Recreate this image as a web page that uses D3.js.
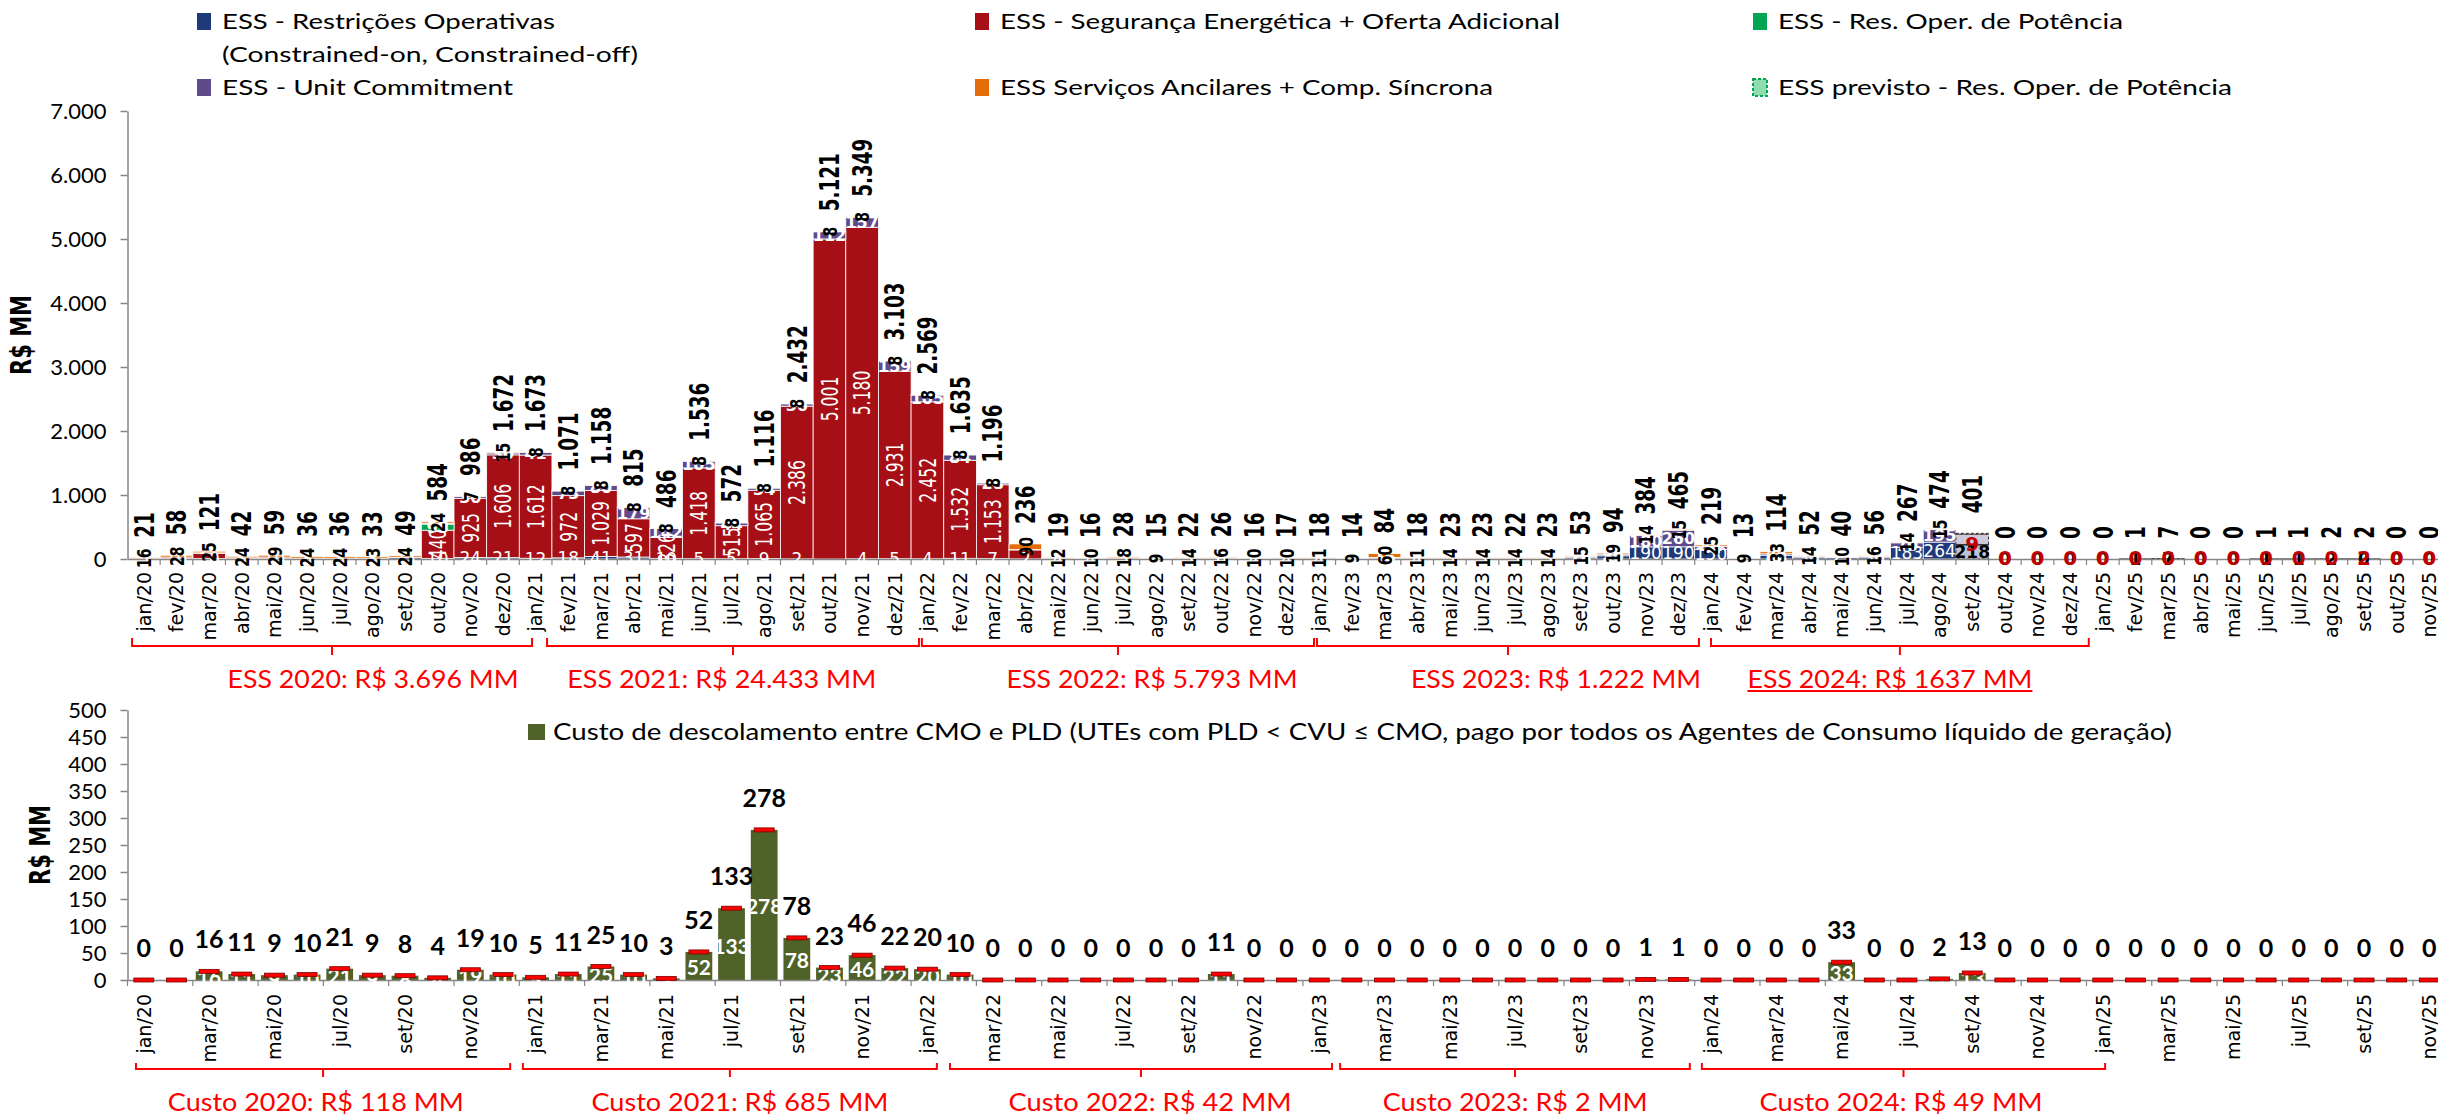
<!DOCTYPE html>
<html>
<head>
<meta charset="utf-8">
<script src="https://cdn.jsdelivr.net/npm/d3@7"></script>
<style>
  html, body { margin: 0; padding: 0; background: #fff; }
  svg { display: block; }
</style>
</head>
<body>
<svg id="chart" width="2438" height="1116"></svg>
<script>
// ---------- Data (R$ milhões) ----------
const months = [
  "jan/20","fev/20","mar/20","abr/20","mai/20","jun/20","jul/20","ago/20","set/20","out/20","nov/20","dez/20",
  "jan/21","fev/21","mar/21","abr/21","mai/21","jun/21","jul/21","ago/21","set/21","out/21","nov/21","dez/21",
  "jan/22","fev/22","mar/22","abr/22","mai/22","jun/22","jul/22","ago/22","set/22","out/22","nov/22","dez/22",
  "jan/23","fev/23","mar/23","abr/23","mai/23","jun/23","jul/23","ago/23","set/23","out/23","nov/23","dez/23",
  "jan/24","fev/24","mar/24","abr/24","mai/24","jun/24","jul/24","ago/24","set/24","out/24","nov/24","dez/24",
  "jan/25","fev/25","mar/25","abr/25","mai/25","jun/25","jul/25","ago/25","set/25","out/25","nov/25"
];

// ESS - Restrições Operativas (Constrained-on, Constrained-off)
const essRestricoes = [
  5,10,10,8,10,8,8,8,25,10,24,21,
  12,18,41,31,10,5,5,9,2,0,4,5,
  4,11,7,2,4,4,5,4,5,6,4,4,
  4,3,8,4,5,5,5,5,20,50,190,190,
  150,4,60,30,25,30,183,264,218,0,0,0,
  0,1,7,0,0,1,1,2,0,0,0
];
// ESS - Segurança Energética + Oferta Adicional
const essSeguranca = [
  0,20,80,10,20,4,4,2,0,440,925,1606,
  1612,972,1029,597,326,1418,515,1065,2386,5001,5180,2931,
  2452,1532,1153,140,0,0,0,0,0,0,0,0,
  0,0,0,0,0,0,0,0,0,0,0,0,
  0,0,0,0,0,0,0,0,9,0,0,0,
  0,0,0,0,0,0,0,0,2,0,0
];
// ESS - Res. Oper. de Potência
const essPotencia = [
  0,0,0,0,0,0,0,0,0,95,0,0,
  0,0,0,0,0,0,0,0,0,0,0,0,
  0,0,0,0,0,0,0,0,0,0,0,0,
  0,0,0,0,0,0,0,0,0,0,0,0,
  0,0,0,0,0,0,0,0,0,0,0,0,
  0,0,0,0,0,0,0,0,0,0,0
];
// ESS - Unit Commitment
const essUnitCommitment = [
  0,0,6,0,0,0,0,0,0,15,30,30,
  41,73,80,179,142,105,44,34,36,112,157,159,
  105,84,28,4,3,2,5,2,3,4,2,3,
  3,2,16,3,4,4,3,4,18,25,180,260,
  44,0,21,8,5,10,70,195,160,0,0,0,
  0,0,0,0,0,0,0,0,0,0,0
];
// ESS Serviços Ancilares + Comp. Síncrona
const essAncilares = [
  16,28,25,24,29,24,24,23,24,24,7,15,
  8,8,8,8,8,8,8,8,8,8,8,8,
  8,8,8,90,12,10,18,9,14,16,10,10,
  11,9,60,11,14,14,14,14,15,19,14,15,
  25,9,33,14,10,16,14,15,14,0,0,0,
  0,0,0,0,0,0,0,0,0,0,0
];
// first month shown as previsto (forecast)
const firstForecastMonth = "set/24";

// Custo de descolamento entre CMO e PLD
const custoDescolamento = [
  0,0,16,11,9,10,21,9,8,4,19,10,
  5,11,25,10,3,52,133,278,78,23,46,22,
  20,10,0,0,0,0,0,0,0,11,0,0,
  0,0,0,0,0,0,0,0,0,0,1,1,
  0,0,0,0,33,0,0,2,13,0,0,0,
  0,0,0,0,0,0,0,0,0,0,0
];

const years = ["2020","2021","2022","2023","2024"];
const essAnnualLabels = ["3.696","24.433","5.793","1.222","1637"];
const custoAnnual = [118, 685, 42, 2, 49];

const topTicks = [0,1000,2000,3000,4000,5000,6000,7000];
const bottomTicks = [0,50,100,150,200,250,300,350,400,450,500];

// ---------- Setup ----------
const svg = d3.select("#chart");
const locale = d3.formatLocale({decimal: ",", thousands: ".", grouping: [3], currency: ["R$ ", ""]});
const fmt = locale.format(",d");

const CAL = "Lato, 'Open Sans', sans-serif";
const VER = "'DejaVu Sans', Verdana, sans-serif";
const AXIS_GREY = "#868686";
const ANNOT_RED = "#ff0000";

const colors = {
  restricoes: "#1f3a7a",
  seguranca: "#a50f15",
  potencia: "#00a651",
  unit: "#5f4b8b",
  ancilares: "#e46c0a",
  previsto: "#8fdcae",
  custo: "#4f6228"
};

const keys = ["restricoes", "seguranca", "potencia", "unit", "ancilares"];
const forecastStart = months.indexOf(firstForecastMonth);
const rows = months.map((m, i) => ({
  month: m, i,
  forecast: i >= forecastStart,
  restricoes: essRestricoes[i],
  seguranca: essSeguranca[i],
  potencia: essPotencia[i],
  unit: essUnitCommitment[i],
  ancilares: essAncilares[i]
}));
rows.forEach(r => { r.total = d3.sum(keys, k => r[k]); });

const x0 = 127.5, step = 32.65;
const xTop = d3.scaleBand().domain(months).range([x0, x0 + months.length * step]).padding(0);
const xBot = d3.scaleBand().domain(months).range([x0, x0 + months.length * step])
  .paddingInner(0.18).paddingOuter(0.09);
const xIdx = d3.scaleLinear().domain([0, months.length]).range([x0, x0 + months.length * step]);

const yTop = d3.scaleLinear().domain([0, 7000]).range([559, 111]);
const yBot = d3.scaleLinear().domain([0, 500]).range([980, 710]);

// vertical (reading upward) label, condensed along its length
function vLabel(g, data, pos, txt, opts) {
  const groups = g.selectAll(null).data(data).join("g")
    .attr("transform", d => { const p = pos(d); return `translate(${p[0]},${p[1]})`; });
  groups.append("g").attr("transform", "rotate(-90)")
    .append("text")
    .attr("transform", `scale(${opts.squeeze},1)`)
    .attr("text-anchor", opts.anchor)
    .attr("dy", "0.36em")
    .attr("font-family", opts.family)
    .attr("font-size", opts.size)
    .attr("font-weight", opts.weight || "normal")
    .attr("fill", opts.fill)
    .text(txt);
  return groups;
}

// ---------- Top chart ----------
const topG = svg.append("g");
const series = d3.stack().keys(keys)(rows);

const barsG = topG.append("g");
series.forEach(s => {
  barsG.selectAll(null)
    .data(s.filter(d => d[1] > d[0]))
    .join("rect")
    .attr("x", d => xTop(d.data.month))
    .attr("width", xTop.bandwidth())
    .attr("y", d => yTop(d[1]))
    .attr("height", d => yTop(d[0]) - yTop(d[1]))
    .attr("fill", colors[s.key])
    .attr("fill-opacity", d => d.data.forecast ? 0.3 : 1)
    .attr("stroke", d => d.data.forecast ? "#333" : "#fff")
    .attr("stroke-width", d => d.data.forecast ? 1 : 0.8)
    .attr("stroke-dasharray", d => d.data.forecast ? "3,2" : null);
});

// y axis
const yAxisTop = topG.append("g").attr("transform", `translate(${x0},0)`)
  .call(d3.axisLeft(yTop).tickValues(topTicks).tickFormat(fmt).tickSize(7).tickPadding(14).tickSizeOuter(0));
yAxisTop.select(".domain").attr("stroke", AXIS_GREY).attr("stroke-width", 1.5);
yAxisTop.selectAll(".tick line").attr("stroke", AXIS_GREY).attr("stroke-width", 1.5);
yAxisTop.selectAll(".tick text").attr("font-family", CAL).attr("font-size", 22).attr("fill", "#000");

// x axis
const xAxisTop = topG.append("g").attr("transform", `translate(0,${yTop(0)})`)
  .call(d3.axisBottom(xTop).tickSize(0).tickSizeOuter(0));
xAxisTop.select(".domain").attr("stroke", AXIS_GREY).attr("stroke-width", 1.5);
xAxisTop.selectAll(".tick text")
  .attr("font-family", VER).attr("font-size", 19).attr("fill", "#000")
  .attr("text-anchor", "end").attr("transform", "rotate(-90)")
  .attr("x", -13).attr("y", 0).attr("dy", "0.36em");
topG.append("g").selectAll("line")
  .data(months)
  .join("line")
  .attr("x1", d => xTop(d) + xTop.bandwidth()).attr("x2", d => xTop(d) + xTop.bandwidth())
  .attr("y1", yTop(0)).attr("y2", yTop(0) + 6)
  .attr("stroke", AXIS_GREY).attr("stroke-width", 1.2);

// segment labels
const segLabels = topG.append("g");
const cx = d => xTop(d.month) + xTop.bandwidth() / 2;
const segMid = d => (yTop(d[0]) + yTop(d[1])) / 2;
const sOf = k => series.find(s => s.key === k);

// Restrições labels (horizontal, foot of bar)
const sRes = sOf("restricoes");
segLabels.selectAll(null)
  .data(sRes.filter(d => d.data.restricoes > 0 || d.data.forecast))
  .join("text")
  .attr("x", d => cx(d.data))
  .attr("y", d => segMid(d))
  .attr("text-anchor", "middle").attr("dominant-baseline", "central")
  .attr("font-family", VER).attr("font-size", 17)
  .attr("font-weight", d => d.data.forecast ? "bold" : "normal")
  .attr("fill", d => d.data.forecast ? "#000" : "#fff")
  .text(d => fmt(d.data.restricoes));

// Segurança labels (vertical, white)
const sSeg = sOf("seguranca");
vLabel(segLabels, sSeg.filter(d => d.data.seguranca >= 150 && !d.data.forecast),
  d => [cx(d.data), segMid(d)], d => fmt(d.data.seguranca),
  {squeeze: 0.68, anchor: "middle", family: VER, size: 23, fill: "#fff"});
segLabels.selectAll(null)
  .data(sSeg.filter(d => d.data.forecast))
  .join("text")
  .attr("x", d => cx(d.data))
  .attr("y", d => segMid(d) - 1)
  .attr("text-anchor", "middle").attr("dominant-baseline", "central")
  .attr("font-family", VER).attr("font-size", 20).attr("font-weight", "bold")
  .attr("fill", "#c00000")
  .text(d => fmt(d.data.seguranca));

// Res. Oper. de Potência labels
const sPot = sOf("potencia");
segLabels.selectAll(null)
  .data(sPot.filter(d => d.data.potencia > 0))
  .join("text")
  .attr("x", d => cx(d.data)).attr("y", d => segMid(d))
  .attr("text-anchor", "middle").attr("dominant-baseline", "central")
  .attr("font-family", VER).attr("font-size", 16).attr("font-weight", "bold").attr("fill", "#fff")
  .text(d => fmt(d.data.potencia));

// Unit Commitment labels
const sUnit = sOf("unit");
segLabels.selectAll(null)
  .data(sUnit.filter(d => d.data.unit >= 15 && !d.data.forecast))
  .join("text")
  .attr("x", d => cx(d.data)).attr("y", d => segMid(d))
  .attr("text-anchor", "middle").attr("dominant-baseline", "central")
  .attr("font-family", VER).attr("font-size", 16).attr("font-weight", "bold").attr("fill", "#fff")
  .text(d => fmt(d.data.unit));

// Serviços Ancilares labels (vertical, black)
const sAnc = sOf("ancilares");
vLabel(segLabels, sAnc.filter(d => d.data.ancilares > 0 && !d.data.forecast),
  d => [cx(d.data), segMid(d)], d => fmt(d.data.ancilares),
  {squeeze: 0.7, anchor: "middle", family: VER, size: 20, weight: "bold", fill: "#000"});

// totals
vLabel(topG.append("g"), rows,
  d => [cx(d), yTop(d.total) - 20], d => fmt(d.total),
  {squeeze: 0.68, anchor: "start", family: VER, size: 27, weight: "bold", fill: "#000"});

// y title
vLabel(svg.append("g"), ["R$ MM"], () => [21, 335], d => d,
  {squeeze: 0.75, anchor: "middle", family: VER, size: 28, weight: "bold", fill: "#000"});

// ---------- Top legend ----------
const legend = svg.append("g");
const legendItems = [
  {label: "ESS - Restrições Operativas", color: colors.restricoes, x: 197, row: 0, w: 333},
  {label: "ESS - Segurança Energética + Oferta Adicional", color: colors.seguranca, x: 975, row: 0, w: 560},
  {label: "ESS - Res. Oper. de Potência", color: colors.potencia, x: 1753, row: 0, w: 345},
  {label: "ESS - Unit Commitment", color: colors.unit, x: 197, row: 1, w: 291},
  {label: "ESS Serviços Ancilares + Comp. Síncrona", color: colors.ancilares, x: 975, row: 1, w: 493},
  {label: "ESS previsto - Res. Oper. de Potência", color: colors.previsto, x: 1753, row: 1, w: 454, dashed: true}
];
const rowBase = [29, 95];
legendItems.forEach(it => {
  const b = rowBase[it.row];
  legend.append("rect")
    .attr("x", it.x).attr("y", b - 16).attr("width", 14).attr("height", 17)
    .attr("fill", it.color)
    .attr("stroke", it.dashed ? colors.potencia : "none")
    .attr("stroke-width", it.dashed ? 2 : 0)
    .attr("stroke-dasharray", it.dashed ? "3,2" : null);
  legend.append("text")
    .attr("x", it.x + 25).attr("y", b)
    .attr("font-family", CAL).attr("font-size", 21).attr("fill", "#000")
    .attr("textLength", it.w).attr("lengthAdjust", "spacingAndGlyphs")
    .text(it.label);
});
legend.append("text")
  .attr("x", 222).attr("y", 62)
  .attr("font-family", CAL).attr("font-size", 21).attr("fill", "#000")
  .attr("textLength", 416).attr("lengthAdjust", "spacingAndGlyphs")
  .text("(Constrained-on, Constrained-off)");

// ---------- Year brackets ----------
function bracket(g, a, b, yLine, up, down) {
  const xa = xIdx(a), xb = xIdx(b), xm = (xa + xb) / 2;
  g.append("path")
    .attr("d", `M${xa},${yLine - up}V${yLine}H${xb}V${yLine - up}M${xm},${yLine}V${yLine + down}`)
    .attr("fill", "none").attr("stroke", ANNOT_RED).attr("stroke-width", 2);
}
const annot = svg.append("g");
const topSpans = [[0.14, 12.39], [12.85, 24.24], [24.33, 36.34], [36.43, 48.13], [48.5, 60.07]];
const topTextAt = [7.52, 18.2, 31.38, 43.75, 53.98];
const topTextW = [291, 309, 291, 290, 285];
years.forEach((yr, i) => {
  bracket(annot, topSpans[i][0], topSpans[i][1], 646, 8, 9);
  annot.append("text")
    .attr("x", xIdx(topTextAt[i])).attr("y", 688)
    .attr("text-anchor", "middle")
    .attr("font-family", CAL).attr("font-size", 25).attr("fill", ANNOT_RED)
    .attr("textLength", topTextW[i]).attr("lengthAdjust", "spacingAndGlyphs")
    .text(`ESS ${yr}: R$ ${essAnnualLabels[i]} MM`);
  if (i === years.length - 1) {
    annot.append("line")
      .attr("x1", xIdx(topTextAt[i]) - topTextW[i] / 2).attr("x2", xIdx(topTextAt[i]) + topTextW[i] / 2)
      .attr("y1", 691).attr("y2", 691).attr("stroke", ANNOT_RED).attr("stroke-width", 2);
  }
});

const botSpans = [[0.26, 11.72], [12.11, 24.79], [25.19, 36.89], [37.14, 47.85], [48.22, 60.57]];
const botTextAt = [5.77, 18.76, 31.32, 42.5, 54.32];
const botTextW = [296, 297, 283, 265, 283];
years.forEach((yr, i) => {
  bracket(annot, botSpans[i][0], botSpans[i][1], 1069, 6, 8);
  annot.append("text")
    .attr("x", xIdx(botTextAt[i])).attr("y", 1111)
    .attr("text-anchor", "middle")
    .attr("font-family", CAL).attr("font-size", 25).attr("fill", ANNOT_RED)
    .attr("textLength", botTextW[i]).attr("lengthAdjust", "spacingAndGlyphs")
    .text(`Custo ${yr}: R$ ${custoAnnual[i]} MM`);
});

// ---------- Bottom chart ----------
const botG = svg.append("g");
const custoRows = months.map((m, i) => ({month: m, i, v: custoDescolamento[i]}));
const bcx = d => xBot(d.month) + xBot.bandwidth() / 2;

botG.append("g").selectAll("rect")
  .data(custoRows.filter(d => d.v > 0))
  .join("rect")
  .attr("x", d => xBot(d.month)).attr("width", xBot.bandwidth())
  .attr("y", d => yBot(d.v)).attr("height", d => yBot(0) - yBot(d.v))
  .attr("fill", colors.custo);

const yAxisBot = botG.append("g").attr("transform", `translate(${x0},0)`)
  .call(d3.axisLeft(yBot).tickValues(bottomTicks).tickSize(7).tickPadding(14).tickSizeOuter(0));
yAxisBot.select(".domain").attr("stroke", AXIS_GREY).attr("stroke-width", 1.5);
yAxisBot.selectAll(".tick line").attr("stroke", AXIS_GREY).attr("stroke-width", 1.5);
yAxisBot.selectAll(".tick text").attr("font-family", CAL).attr("font-size", 22).attr("fill", "#000");

const xAxisBot = botG.append("g").attr("transform", `translate(0,${yBot(0)})`)
  .call(d3.axisBottom(xTop).tickValues(months.filter((m, i) => i % 2 === 0)).tickSize(0).tickSizeOuter(0));
xAxisBot.select(".domain").attr("stroke", AXIS_GREY).attr("stroke-width", 1.5);
xAxisBot.selectAll(".tick text")
  .attr("font-family", VER).attr("font-size", 19).attr("fill", "#000")
  .attr("text-anchor", "end").attr("transform", "rotate(-90)")
  .attr("x", -14).attr("y", 0).attr("dy", "0.36em");
botG.append("g").selectAll("line")
  .data(months.filter((m, i) => i % 2 === 0))
  .join("line")
  .attr("x1", d => xTop(d)).attr("x2", d => xTop(d))
  .attr("y1", yBot(0)).attr("y2", yBot(0) + 6)
  .attr("stroke", AXIS_GREY).attr("stroke-width", 1.2);

// white labels inside bars
botG.append("g").selectAll("text")
  .data(custoRows.filter(d => d.i <= forecastStart))
  .join("text")
  .attr("x", bcx).attr("y", d => (yBot(0) + yBot(d.v)) / 2 + 1)
  .attr("text-anchor", "middle").attr("dominant-baseline", "central")
  .attr("font-family", CAL).attr("font-size", 21).attr("font-weight", "bold").attr("fill", "#fff")
  .text(d => fmt(d.v));

// red markers at bar tops
botG.append("g").selectAll("rect")
  .data(custoRows)
  .join("rect")
  .attr("x", d => bcx(d) - 10).attr("width", 20)
  .attr("y", d => yBot(d.v) - 2).attr("height", 4)
  .attr("fill", "#ff0000").attr("stroke", "#7a0000").attr("stroke-width", 0.8);

// value labels above
botG.append("g").selectAll("text")
  .data(custoRows)
  .join("text")
  .attr("x", bcx).attr("y", d => yBot(d.v) - 23)
  .attr("text-anchor", "middle")
  .attr("font-family", CAL).attr("font-size", 25).attr("font-weight", "bold").attr("fill", "#000")
  .text(d => fmt(d.v));

vLabel(svg.append("g"), ["R$ MM"], () => [40, 845], d => d,
  {squeeze: 0.75, anchor: "middle", family: VER, size: 28, weight: "bold", fill: "#000"});

// bottom legend
botG.append("rect").attr("x", 528).attr("y", 724).attr("width", 17).attr("height", 16).attr("fill", colors.custo);
botG.append("text")
  .attr("x", 553).attr("y", 740)
  .attr("font-family", CAL).attr("font-size", 24).attr("fill", "#000")
  .attr("textLength", 1619).attr("lengthAdjust", "spacingAndGlyphs")
  .text("Custo de descolamento entre CMO e PLD (UTEs com PLD < CVU ≤ CMO, pago por todos os Agentes de Consumo líquido de geração)");
</script>
</body>
</html>
